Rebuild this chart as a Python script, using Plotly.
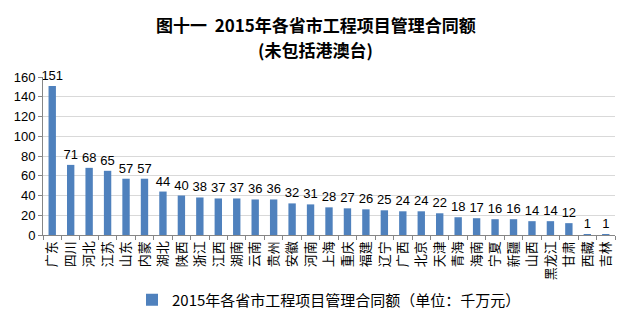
import plotly.graph_objects as go

provinces = ["广东", "四川", "河北", "江苏", "山东", "内蒙", "湖北", "陕西", "浙江", "江西",
             "湖南", "云南", "贵州", "安徽", "河南", "上海", "重庆", "福建", "辽宁", "广西",
             "北京", "天津", "青海", "海南", "宁夏", "新疆", "山西", "黑龙江", "甘肃", "西藏", "吉林"]
amounts = [151, 71, 68, 65, 57, 57, 44, 40, 38, 37,
           37, 36, 36, 32, 31, 28, 27, 26, 25, 24,
           24, 22, 18, 17, 16, 16, 14, 14, 12, 1, 1]
y_ticks = [0, 20, 40, 60, 80, 100, 120, 140, 160]

series_name = "2015年各省市工程项目管理合同额（单位：千万元）"
title_line1 = "<b>图十一  2015年各省市工程项目管理合同额</b>"
title_line2 = "<b>(未包括港澳台)</b>"

font_cn = "Noto Sans CJK SC, Liberation Sans, sans-serif"
font_num = "Liberation Sans, sans-serif"

W, H = 631, 328
M_L, M_R, M_T, M_B = 43, 16, 77, 93
plot_w = W - M_L - M_R
plot_h = H - M_T - M_B


def paper_x(px):
    return (px - M_L) / plot_w


def paper_y(py):
    return (H - M_B - py) / plot_h


fig = go.Figure()
fig.add_trace(go.Bar(
    x=provinces,
    y=amounts,
    name=series_name,
    marker=dict(color="#4F81BD", line=dict(width=0)),
    text=[str(v) for v in amounts],
    textposition="outside",
    constraintext="none",
    cliponaxis=False,
    textfont=dict(size=13, color="#000000", family=font_num),
))

# two-line chart title, centred on the page
for line, py in ((title_line1, 24), (title_line2, 49.5)):
    fig.add_annotation(text=line, xref="paper", yref="paper",
                       x=paper_x(W / 2), y=paper_y(py), xanchor="center", yanchor="middle",
                       showarrow=False,
                       font=dict(size=17, color="#000000", family=font_cn))

fig.update_layout(
    width=W, height=H,
    margin=dict(l=M_L, r=M_R, t=M_T, b=M_B, autoexpand=False),
    paper_bgcolor="white", plot_bgcolor="white",
    bargap=0.6,
    showlegend=True,
    legend=dict(orientation="h", x=0.5, xanchor="center",
                yref="container", y=0.035, yanchor="bottom",
                font=dict(size=15, color="#000000", family=font_cn),
                itemwidth=30),
    xaxis=dict(
        type="category",
        tickangle=-90,
        automargin=False,
        tickfont=dict(size=13, color="#000000", family=font_cn),
        showline=True, linecolor="#868686", linewidth=1,
        ticks="outside", ticklen=4, tickcolor="#868686",
        tickson="boundaries",
        showgrid=False,
    ),
    yaxis=dict(
        range=[0, 160],
        tickmode="array",
        tickvals=y_ticks,
        automargin=False,
        tickfont=dict(size=13, color="#000000", family=font_num),
        showline=True, linecolor="#868686", linewidth=1,
        ticks="outside", ticklen=4, tickcolor="#868686",
        showgrid=True, gridcolor="#D9D9D9", gridwidth=1,
        zeroline=False,
    ),
)

fig.write_html("out.html")
